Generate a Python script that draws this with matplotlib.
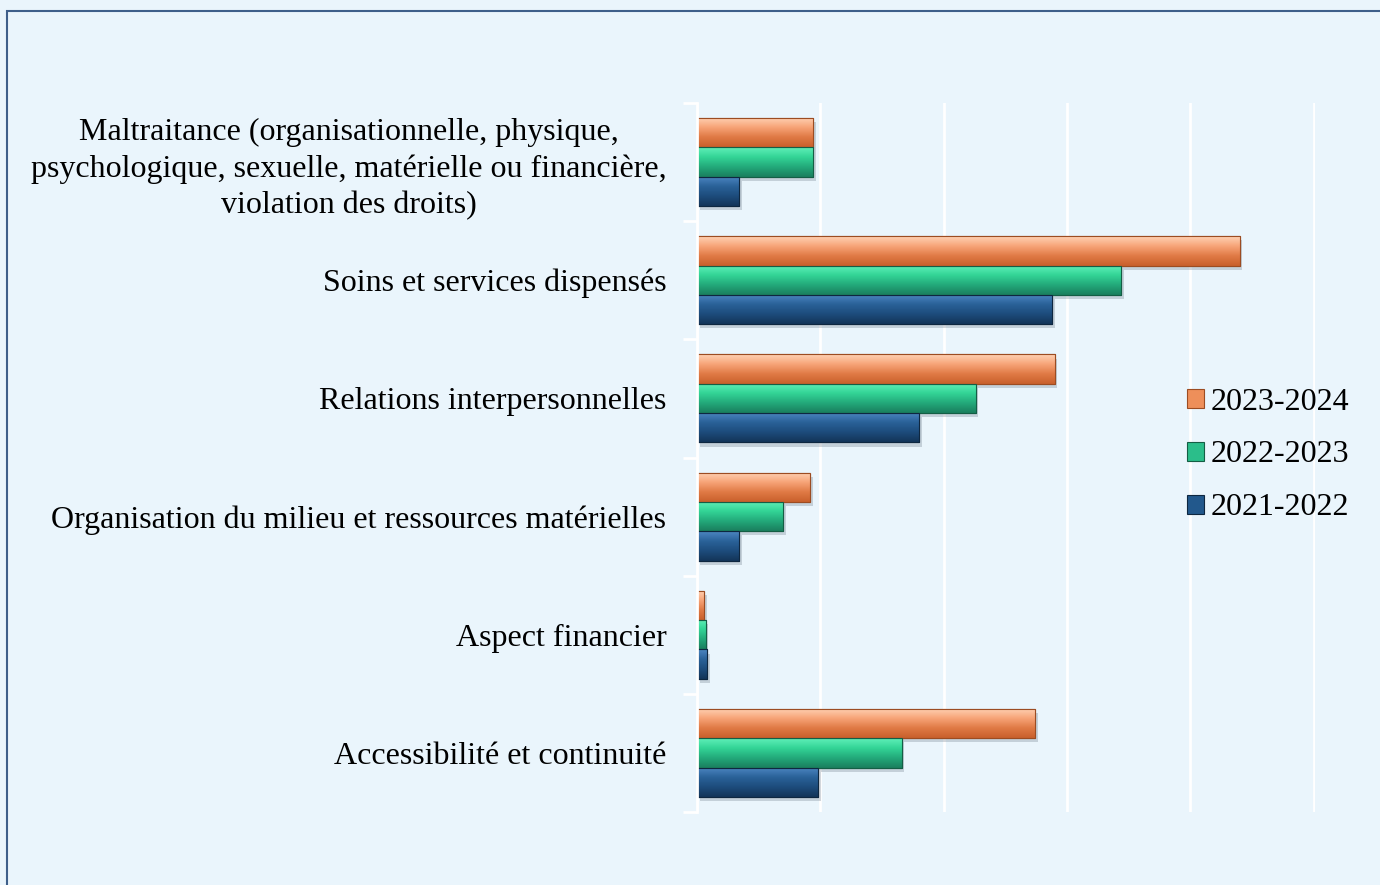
import numpy as np
import matplotlib
matplotlib.use("Agg")
import matplotlib.pyplot as plt
from matplotlib.patches import Rectangle
from matplotlib import patheffects as pe
from matplotlib.colors import LinearSegmentedColormap

categories = [
    "Maltraitance (organisationnelle, physique,\npsychologique, sexuelle, matérielle ou financière,\nviolation des droits)",
    "Soins et services dispensés",
    "Relations interpersonnelles",
    "Organisation du milieu et ressources matérielles",
    "Aspect financier",
    "Accessibilité et continuité",
]
series_names = ["2023-2024", "2022-2023", "2021-2022"]
v_2023_2024 = [47, 220, 145, 46, 3, 137]
v_2022_2023 = [47, 172, 113, 35, 3.5, 83]
v_2021_2022 = [17, 144, 90, 17, 4, 49]
values = [v_2023_2024, v_2022_2023, v_2021_2022]

# colour gradients: (top highlight, middle, bottom)
grads = [
    ["#FFD2B4", "#F7A478", "#E07A45", "#C9602C"],
    ["#5FF0B8", "#33D496", "#23A97A", "#1A7F5E"],
    ["#4D86C2", "#2A6299", "#1D4C7C", "#133559"],
]
solid = ["#EE8F5A", "#2BBE8A", "#22588C"]
edges = ["#9C4C22", "#145E45", "#0E2740"]

bg = "#EAF5FC"
plt.rcParams['font.family'] = ['Liberation Serif', 'DejaVu Serif']

fig = plt.figure(figsize=(13.8, 8.85), dpi=100, facecolor=bg)
ax = fig.add_axes([697/1380, 1-812/885, (1315-697)/1380, (812-103)/885])
ax.set_facecolor(bg)

n = len(categories)
bh = 0.248
centers = np.arange(n)
ax.set_ylim(n - 0.5, -0.5)
ax.set_xlim(0, 250.6)

for si, vals in enumerate(values):
    offs = (si - 1) * bh
    cmap = LinearSegmentedColormap.from_list("g%d" % si, grads[si])
    grad = np.linspace(0, 1, 64).reshape(-1, 1)
    for ci, v in enumerate(vals):
        y = centers[ci] + offs
        b = ax.barh(y, v, height=bh, color=solid[si], edgecolor=edges[si],
                    linewidth=0.8, zorder=3,
                    label=series_names[si] if ci == 0 else None)
        patch = b.patches[0]
        patch.set_path_effects([pe.SimplePatchShadow(offset=(2, -3), shadow_rgbFace="#7F8C99", alpha=0.35),
                                pe.Normal()])
        im = ax.imshow(grad, cmap=cmap, aspect='auto', zorder=3.5,
                       extent=(0, v, y + bh/2, y - bh/2), interpolation='bicubic')
        im.set_clip_path(patch)
        ax.add_patch(Rectangle((0, y - bh/2), v, bh, fill=False,
                               edgecolor=edges[si], linewidth=0.8, zorder=4))

ax.set_xticks(np.arange(0, 251, 50))
ax.xaxis.grid(True, color="white", linewidth=2, zorder=0)
ax.tick_params(axis='x', length=0, labelbottom=False)
for s in ["top", "right", "bottom"]:
    ax.spines[s].set_visible(False)
ax.spines["left"].set_color("white")
ax.spines["left"].set_linewidth(2)
ax.spines["left"].set_zorder(5)

ax.set_yticks(centers)
ax.set_yticklabels(categories, fontsize=23)
ax.set_yticks(np.arange(n + 1) - 0.5, minor=True)
ax.tick_params(axis='y', which='major', length=0, pad=22)
ax.tick_params(axis='y', which='minor', length=10, width=2, color="white")
for lbl in ax.get_yticklabels():
    lbl.set_multialignment('center')
    lbl.set_linespacing(1.31)

leg = ax.legend(loc='center left', bbox_to_anchor=(1174/1380, 430/885),
                bbox_transform=fig.transFigure, frameon=False, fontsize=23,
                handlelength=0.55, handleheight=0.55, handletextpad=0.2,
                labelspacing=0.75, borderaxespad=0)
for h, e in zip(leg.legend_handles, edges):
    h.set_edgecolor(e)
    h.set_path_effects([])

fig.patches.append(Rectangle((7/1380, -0.05), 1.1, 1 - 11/885 + 0.05,
                             transform=fig.transFigure, fill=False,
                             edgecolor="#3E5F8A", linewidth=1.5))

fig.savefig("out.png", dpi=100, facecolor=bg)
